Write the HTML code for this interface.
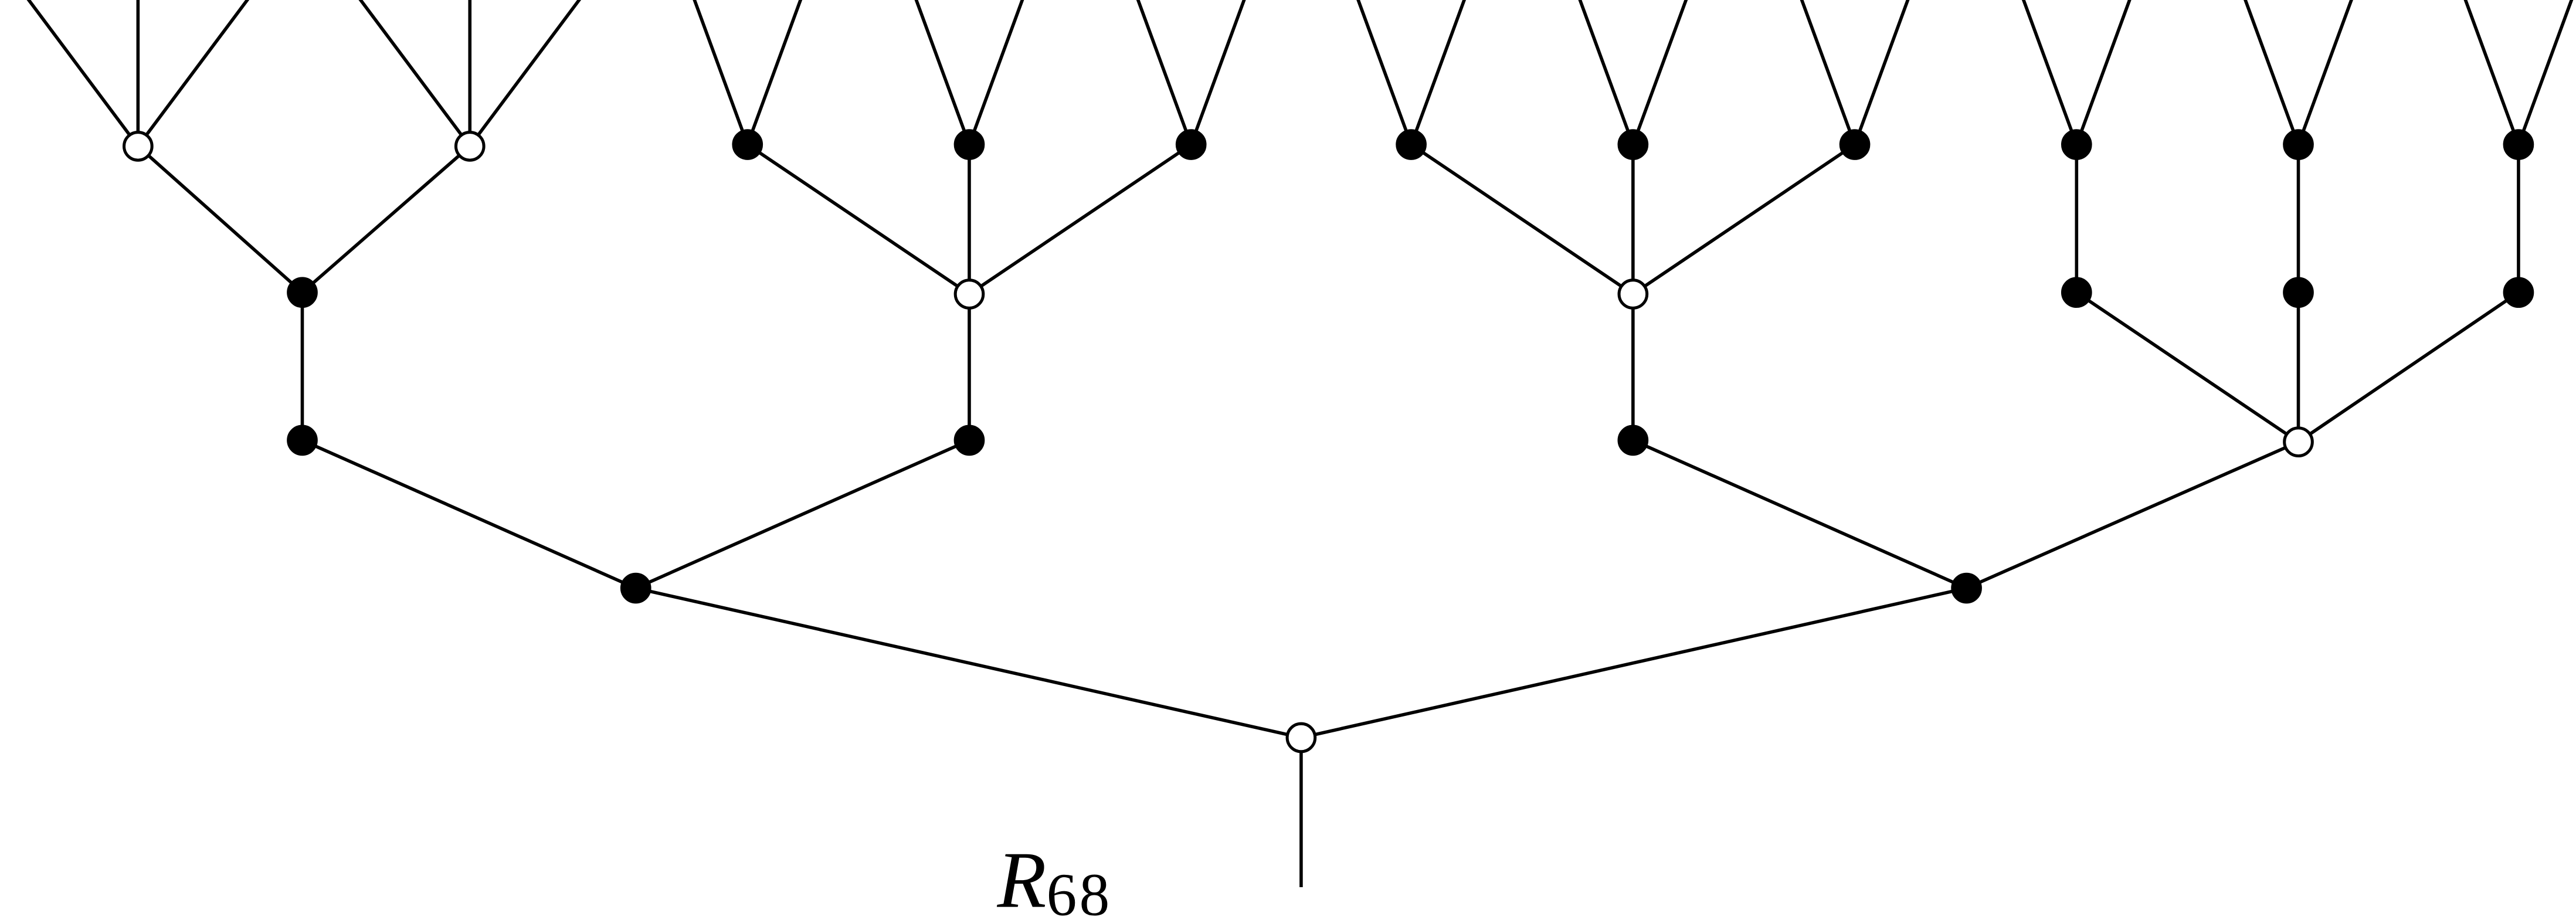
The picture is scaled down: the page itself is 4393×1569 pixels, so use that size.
<!DOCTYPE html>
<html><head><meta charset="utf-8"><style>
html,body{margin:0;padding:0;background:#fff;overflow:hidden}
svg{display:block}
</style></head><body>
<svg id="tree" width="4393" height="1569" viewBox="0 0 1568 560" preserveAspectRatio="none" xmlns="http://www.w3.org/2000/svg">
<g id="edges" stroke="#000" stroke-width="2" fill="none"></g>
<g id="nodes"></g>
<text x="607" y="552" font-family="'Liberation Serif', serif" font-style="italic" font-size="49" fill="#000">R<tspan font-style="normal" font-size="37" dy="5" letter-spacing="1.5">68</tspan></text>
</svg>
<script>
// node ids, positions (x,y in diagram units), type (1 = open, 0 = filled)
const nodeIds = ['root','a','b','a1','a2','b1','b2','a1p','a2p','b1p','b2a','b2b','b2c','l1','l2','l3','l4','l5','l6','l7','l8','l9','l10','l11'];
const nodeX = [792,387,1197,184,590,994,1399,184,590,994,1264,1399,1533,84,286,455,590,725,859,994,1129,1264,1399,1533];
const nodeY = [449,358,358,268,268,268,269,178,179,179,178,178,178,89,89,88,88,88,88,88,88,88,88,88];
const nodeOpen = [1,0,0,0,0,0,1,0,1,1,0,0,0,1,1,0,0,0,0,0,0,0,0,0];
const edgeFrom = ['root','root','a','a','b','b','a1','a2','b1','b2','b2','b2','a1p','a1p','a2p','a2p','a2p','b1p','b1p','b1p','b2a','b2b','b2c'];
const edgeTo   = ['a','b','a1','a2','b1','b2','a1p','a2p','b1p','b2a','b2b','b2c','l1','l2','l3','l4','l5','l6','l7','l8','l9','l10','l11'];
const stubNode = ['l1','l1','l1','l2','l2','l2','l3','l3','l4','l4','l5','l5','l6','l6','l7','l7','l8','l8','l9','l9','l10','l10','l11','l11'];
const stubDx = [-68,0,68,-68,0,68,-33,33,-33,33,-33,33,-33,33,-33,33,-33,33,-33,33,-33,33,-33,33];

const NS='http://www.w3.org/2000/svg';
const E=document.getElementById('edges'), N=document.getElementById('nodes');
const pos=id=>{const i=nodeIds.indexOf(id);return [nodeX[i],nodeY[i]];};
function line(x1,y1,x2,y2,name){
  const l=document.createElementNS(NS,'line');
  l.setAttribute('x1',x1);l.setAttribute('y1',y1);l.setAttribute('x2',x2);l.setAttribute('y2',y2);
  
  
  E.appendChild(l);
}
const [rx,ry]=pos('root');
line(rx,ry,rx,540,'root-stem');
edgeFrom.forEach((f,i)=>{const a=pos(f),b=pos(edgeTo[i]);line(a[0],a[1],b[0],b[1],'edge');});
stubNode.forEach((n,i)=>{const p=pos(n);line(p[0],p[1],p[0]+stubDx[i],-2,'leaf-edge');});
nodeIds.forEach((id,i)=>{
  const c=document.createElementNS(NS,'circle');
  c.setAttribute('cx',nodeX[i]);c.setAttribute('cy',nodeY[i]);c.setAttribute('r',8.5);
  c.setAttribute('fill',nodeOpen[i]?'#fff':'#000');c.setAttribute('stroke','#000');c.setAttribute('stroke-width','1.8');
  
  
  N.appendChild(c);
});
</script>
</body></html>
